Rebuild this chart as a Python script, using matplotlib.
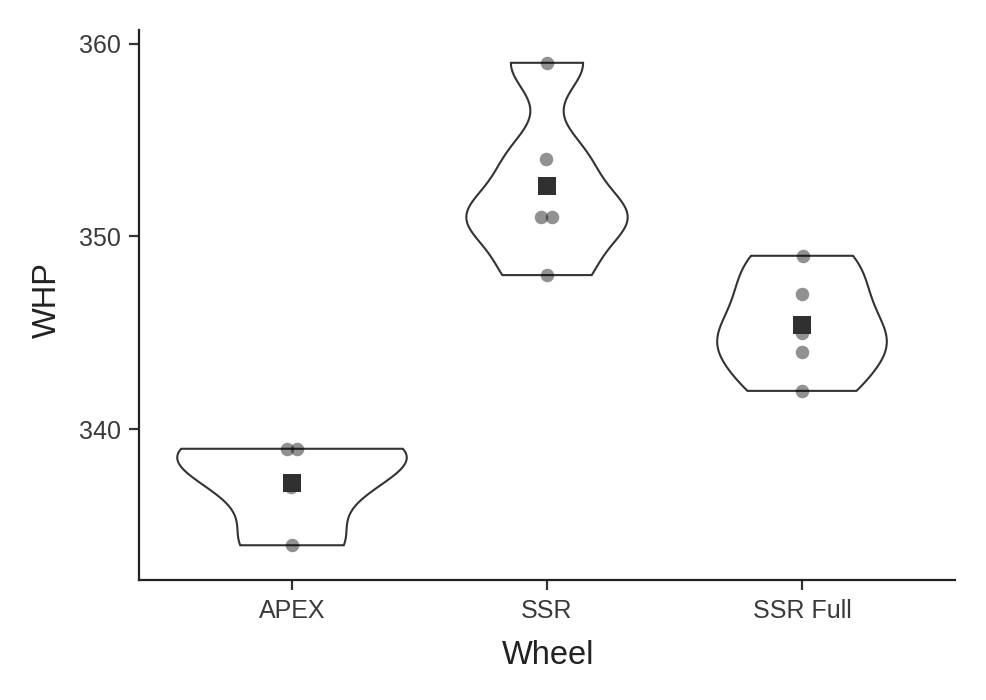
import numpy as np
import matplotlib
matplotlib.use("Agg")
import matplotlib.pyplot as plt

plt.rcParams['font.family'] = ['Liberation Sans', 'DejaVu Sans']

# ---- data ----
wheels = ["APEX", "SSR", "SSR Full"]
whp_apex = [339, 339, 337, 334]
whp_ssr = [359, 354, 351, 351, 348]
whp_ssr_full = [349, 347, 345, 344, 342]
jitter_apex = [-0.02, 0.02, -0.003, 0.0]
jitter_ssr = [0.0, -0.002, -0.022, 0.021, 0.0]
jitter_ssr_full = [0.002, 0.0, 0.0, 0.0, 0.0]
y_ticks = [340, 350, 360]

groups = [whp_apex, whp_ssr, whp_ssr_full]
jitters = [jitter_apex, jitter_ssr, jitter_ssr_full]


def bw_nrd0(x):
    x = np.asarray(x, float)
    sd = np.std(x, ddof=1)
    q1, q3 = np.percentile(x, [25, 75])
    lo = min(sd, (q3 - q1) / 1.34)
    if lo == 0:
        lo = sd if sd > 0 else 1.0
    return 0.9 * lo * len(x) ** (-0.2)


def kde(x, grid):
    x = np.asarray(x, float)
    bw = bw_nrd0(x)
    z = (grid[:, None] - x[None, :]) / bw
    return np.exp(-0.5 * z ** 2).sum(axis=1) / (len(x) * bw * np.sqrt(2 * np.pi))


dens = []
for g in groups:
    grid = np.linspace(min(g), max(g), 512)
    dens.append((grid, kde(g, grid)))
maxd = max(d.max() for _, d in dens)

fig = plt.figure(figsize=(9.86, 7.0), dpi=100)
ax = fig.add_axes([139 / 986, (700 - 580) / 700, (955 - 139) / 986, (580 - 30) / 700])

for i, (grid, d) in enumerate(dens):
    pos = i + 1
    w = 0.45 * d / maxd
    xs = np.concatenate([pos + w, (pos - w)[::-1]])
    ys = np.concatenate([grid, grid[::-1]])
    ax.fill(xs, ys, facecolor="white", edgecolor="#333333", linewidth=1.5, zorder=2)

for i, (g, j) in enumerate(zip(groups, jitters)):
    pos = i + 1
    ax.scatter(np.array(j) + pos, g, s=95, color="black", alpha=0.43,
               linewidths=0, zorder=3)
    ax.scatter([pos], [np.mean(g)], s=150, marker="s", color="#303030",
               linewidths=0, zorder=4)

ax.set_xlim(0.4, 3.6)
ax.set_ylim(332.2, 360.7)
ax.set_xticks([1, 2, 3])
ax.set_xticklabels(wheels)
ax.set_yticks(y_ticks)

for s in ["top", "right"]:
    ax.spines[s].set_visible(False)
for s in ["left", "bottom"]:
    ax.spines[s].set_linewidth(1.6)
    ax.spines[s].set_color("#222222")

ax.tick_params(axis="both", length=7, width=1.6, color="#333333",
               labelsize=18, labelcolor="#3A3A3A")
ax.tick_params(axis="x", pad=7)
ax.tick_params(axis="y", pad=6)

ax.set_xlabel("Wheel", fontsize=23.5, color="#222222")
ax.set_ylabel("WHP", fontsize=23.5, color="#222222")
ax.xaxis.set_label_coords((548 - 139) / 816, -(656 - 580) / 550)
ax.yaxis.set_label_coords(-(139 - 47) / 816, (580 - 300) / 550)
ax.xaxis.label.set_va("center")
ax.yaxis.label.set_va("center")

fig.savefig("out.png", dpi=100, facecolor="white")
